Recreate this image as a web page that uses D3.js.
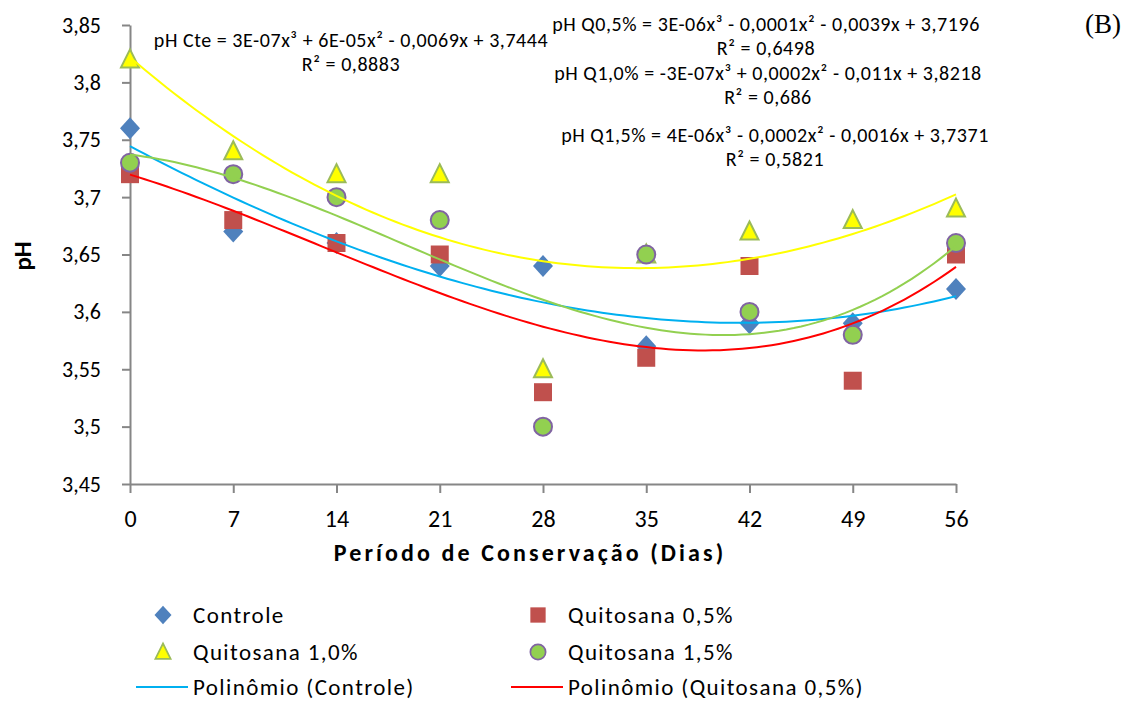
<!DOCTYPE html>
<html>
<head>
<meta charset="utf-8">
<script src="https://cdn.jsdelivr.net/npm/d3@7"></script>
<style>
  html, body { margin: 0; padding: 0; background: #fff; }
  svg { display: block; }
  text { font-family: Carlito, Lato, "Open Sans", sans-serif; fill: #000; }
</style>
</head>
<body>
<svg id="chart" width="1141" height="702"></svg>
<script>
// Storage days
const days = [0, 7, 14, 21, 28, 35, 42, 49, 56];

// pH per treatment
const controle     = [3.76, 3.67, 3.66, 3.64, 3.64, 3.57, 3.59, 3.59, 3.62];
const quitosana05  = [3.72, 3.68, 3.66, 3.65, 3.53, 3.56, 3.64, 3.54, 3.65];
const quitosana10  = [3.82, 3.74, 3.72, 3.72, 3.55, 3.65, 3.67, 3.68, 3.69];
const quitosana15  = [3.73, 3.72, 3.70, 3.68, 3.50, 3.65, 3.60, 3.58, 3.66];

// Axis ticks
const yTicks = [3.45, 3.5, 3.55, 3.6, 3.65, 3.7, 3.75, 3.8, 3.85];
const yTickLabels = ["3,45", "3,5", "3,55", "3,6", "3,65", "3,7", "3,75", "3,8", "3,85"];
const xTicks = days;

// Regression equations printed on the chart
const eqCte  = ["pH Cte = 3E-07x³ + 6E-05x² - 0,0069x + 3,7444", "R² = 0,8883"];
const eqQ05  = ["pH Q0,5% = 3E-06x³ - 0,0001x² - 0,0039x + 3,7196", "R² = 0,6498"];
const eqQ10  = ["pH Q1,0% = -3E-07x³ + 0,0002x² - 0,011x + 3,8218", "R² = 0,686"];
const eqQ15  = ["pH Q1,5% = 4E-06x³ - 0,0002x² - 0,0016x + 3,7371", "R² = 0,5821"];

const svg = d3.select("#chart");

const x = d3.scaleLinear().domain([0, 56]).range([130, 956]);
const y = d3.scaleLinear().domain([3.45, 3.85]).range([484, 25]);

const axisColor = "#868686";

// Y axis
const yAxis = svg.append("g")
  .attr("transform", `translate(${x(0)},0)`)
  .call(d3.axisLeft(y).tickValues(yTicks).tickSize(8).tickSizeOuter(0).tickPadding(21)
    .tickFormat((d, i) => yTickLabels[i]));
yAxis.selectAll("text").style("font-size", "22px");

// X axis
const xAxis = svg.append("g")
  .attr("transform", `translate(0,${y(3.45)})`)
  .call(d3.axisBottom(x).tickValues(xTicks).tickSize(9).tickSizeOuter(0).tickPadding(17)
    .tickFormat(d => String(d)));
xAxis.selectAll("text").style("font-size", "24px");

[yAxis, xAxis].forEach(g => {
  g.select(".domain").attr("stroke", axisColor).attr("stroke-width", 2);
  g.selectAll(".tick line").attr("stroke", axisColor).attr("stroke-width", 2);
  g.selectAll("text").attr("fill", "#000");
});

// Axis titles
svg.append("text")
  .attr("x", 530).attr("y", 561)
  .attr("text-anchor", "middle")
  .style("font-size", "24px").style("font-weight", "bold")
  .style("letter-spacing", "3.1px")
  .text("Período de Conservação (Dias)");

svg.append("text")
  .attr("transform", "translate(31,256) rotate(-90)")
  .attr("text-anchor", "middle")
  .style("font-size", "25px").style("font-weight", "bold")
  .text("pH");

svg.append("text")
  .attr("x", 1103).attr("y", 33)
  .attr("text-anchor", "middle")
  .style("font-family", "'Liberation Serif', 'Times New Roman', serif")
  .style("font-size", "27px")
  .text("(B)");

// Least-squares cubic fit of a series
function polyfit(xs, ys, deg) {
  const n = deg + 1;
  const A = Array.from({ length: n }, () => new Array(n + 1).fill(0));
  xs.forEach((xv, k) => {
    for (let i = 0; i < n; i++) {
      for (let j = 0; j < n; j++) A[i][j] += Math.pow(xv, i + j);
      A[i][n] += ys[k] * Math.pow(xv, i);
    }
  });
  for (let c = 0; c < n; c++) {
    let p = c;
    for (let r = c + 1; r < n; r++) if (Math.abs(A[r][c]) > Math.abs(A[p][c])) p = r;
    [A[c], A[p]] = [A[p], A[c]];
    for (let r = 0; r < n; r++) {
      if (r === c) continue;
      const f = A[r][c] / A[c][c];
      for (let k = c; k <= n; k++) A[r][k] -= f * A[c][k];
    }
  }
  return A.map((row, i) => row[n] / row[i]);
}
const evalPoly = (coef, xv) => coef.reduce((s, c, i) => s + c * Math.pow(xv, i), 0);

const series = [
  { name: "Controle",       values: controle,    shape: "diamond",  fill: "#4F81BD", stroke: "none",     line: "#00B0F0" },
  { name: "Quitosana 0,5%", values: quitosana05, shape: "square",   fill: "#C0504D", stroke: "none",     line: "#FF0000" },
  { name: "Quitosana 1,0%", values: quitosana10, shape: "triangle", fill: "#FFFF00", stroke: "#9BBB59",  line: "#FFFF00" },
  { name: "Quitosana 1,5%", values: quitosana15, shape: "circle",   fill: "#92D050", stroke: "#8064A2",  line: "#92D050" }
];

function markerPath(shape) {
  switch (shape) {
    case "diamond":  return "M0,-11L10,0L0,11L-10,0Z";
    case "square":   return "M-9,-9H9V9H-9Z";
    case "triangle": return "M0,-10L9,8L-9,8Z";
    default:         return d3.symbol(d3.symbolCircle, Math.PI * 81)();
  }
}

// Markers
series.forEach(s => {
  svg.append("g").selectAll("path")
    .data(days.map((d, i) => ({ d, v: s.values[i] })))
    .join("path")
    .attr("transform", p => `translate(${x(p.d)},${y(p.v)})`)
    .attr("d", markerPath(s.shape))
    .attr("fill", s.fill)
    .attr("stroke", s.stroke)
    .attr("stroke-width", s.stroke === "none" ? 0 : 2);
});

// Polynomial trend lines
const sampleX = d3.range(0, 56.001, 0.5);
const lineGen = d3.line().x(p => x(p[0])).y(p => y(p[1]));
series.forEach(s => {
  const coef = polyfit(days, s.values, 3);
  svg.append("path")
    .attr("d", lineGen(sampleX.map(xv => [xv, evalPoly(coef, xv)])))
    .attr("fill", "none")
    .attr("stroke", s.line)
    .attr("stroke-width", 2);
});

// Equation labels
function equation(lines, cx, y0) {
  lines.forEach((t, i) => {
    svg.append("text")
      .attr("x", cx).attr("y", y0 + i * 24)
      .attr("text-anchor", "middle")
      .style("font-size", "20px")
      .style("letter-spacing", "0.55px")
      .text(t);
  });
}
equation(eqCte, 351, 47);
equation(eqQ05, 766, 31);
equation(eqQ10, 768, 80);
equation(eqQ15, 775, 142);

// Legend
const legendItems = [
  { label: "Controle",                    kind: "marker", s: series[0], col: 0, row: 0 },
  { label: "Quitosana 0,5%",              kind: "marker", s: series[1], col: 1, row: 0 },
  { label: "Quitosana 1,0%",              kind: "marker", s: series[2], col: 0, row: 1 },
  { label: "Quitosana 1,5%",              kind: "marker", s: series[3], col: 1, row: 1 },
  { label: "Polinômio (Controle)",        kind: "line",   s: series[0], col: 0, row: 2 },
  { label: "Polinômio (Quitosana 0,5%)",  kind: "line",   s: series[1], col: 1, row: 2 }
];
const colX = [163, 538];
const rowY = [615, 652, 687];
legendItems.forEach(it => {
  const g = svg.append("g").attr("transform", `translate(${colX[it.col]},${rowY[it.row]})`);
  if (it.kind === "marker") {
    g.append("path")
      .attr("d", markerPath(it.s.shape))
      .attr("transform", "scale(0.85)")
      .attr("fill", it.s.fill)
      .attr("stroke", it.s.stroke)
      .attr("stroke-width", it.s.stroke === "none" ? 0 : 2);
  } else {
    g.append("line").attr("x1", -27).attr("x2", 25).attr("y1", 0).attr("y2", 0)
      .attr("stroke", it.s.line).attr("stroke-width", 2);
  }
  g.append("text").attr("x", 30).attr("y", 8)
    .style("font-size", "23px")
    .style("letter-spacing", "1.4px")
    .text(it.label);
});
</script>
</body>
</html>
